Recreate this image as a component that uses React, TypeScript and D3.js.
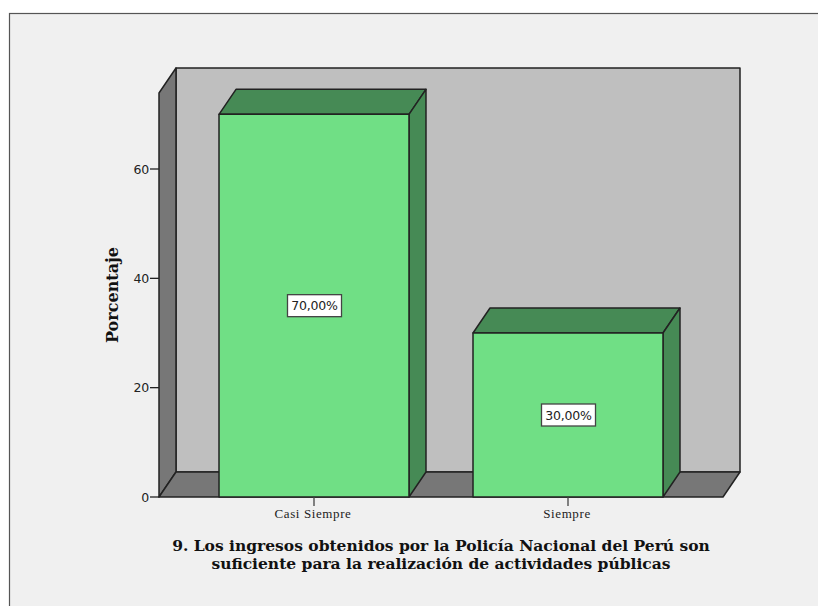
import React from "react";
import * as d3 from "d3";

const categories = ["Casi Siempre", "Siempre"];
const percentages = [70, 30];
const percentLabels = ["70,00%", "30,00%"];
const yTicks = [0, 20, 40, 60];
const titleLines = [
  "9. Los ingresos obtenidos por la Policía Nacional del Perú son",
  "suficiente para la realización de actividades públicas",
];
const yAxisLabel = "Porcentaje";

const W = 818, H = 606;
const DX = 17, DY = 25;
const FRONT_L = 159, FRONT_R = 723, BOTTOM = 497;

const y = d3.scaleLinear().domain([0, 60]).range([BOTTOM, 169]);
const x = d3.scaleBand<string>().domain(categories).range([187, 695]).paddingInner(0.252).paddingOuter(0.126);
const yTop = y(73.9);

const poly = (pts: [number, number][]) => d3.line()(pts)! + "Z";

const STROKE = "#222";
const WALL = "#bfbfbf", SIDE = "#777777", FACE = "#70df85", SHADE = "#468a55";
const SERIF = "'Liberation Serif', serif";
const SLAB = "'DejaVu Serif', serif";
const SANS = "'DejaVu Sans', sans-serif";

export default function App() {
  return (
    <svg width={W} height={H} style={{ position: "absolute", left: 0, top: 0, background: "#fff" }}>
      <rect x={9.5} y={13.5} width={W + 10} height={H + 10} fill="#f0f0f0" stroke="#555" strokeWidth={1.2} />
      <g stroke={STROKE} strokeWidth={1.5} strokeLinejoin="round">
        <path d={poly([[FRONT_L + DX, yTop - DY], [FRONT_R + DX, yTop - DY], [FRONT_R + DX, BOTTOM - DY], [FRONT_L + DX, BOTTOM - DY]])} fill={WALL} />
        <path d={poly([[FRONT_L, yTop], [FRONT_L + DX, yTop - DY], [FRONT_L + DX, BOTTOM - DY], [FRONT_L, BOTTOM]])} fill={SIDE} />
        <path d={poly([[FRONT_L, BOTTOM], [FRONT_L + DX, BOTTOM - DY], [FRONT_R + DX, BOTTOM - DY], [FRONT_R, BOTTOM]])} fill={SIDE} />
      </g>
      {yTicks.map((t) => (
        <g key={t}>
          <line x1={FRONT_L - 9} x2={FRONT_L} y1={y(t)} y2={y(t)} stroke={STROKE} strokeWidth={1.3} />
          <text x={FRONT_L - 10} y={y(t) + 4.5} textAnchor="end" fontFamily={SANS} fontSize={12.5} letterSpacing={-0.2} fill="#222">{t}</text>
        </g>
      ))}
      {categories.map((c, i) => {
        const l = x(c)!, r = l + x.bandwidth(), top = y(percentages[i]);
        const cx = l + x.bandwidth() / 2, cy = (top + BOTTOM) / 2;
        return (
          <g key={c}>
            <g stroke={STROKE} strokeWidth={1.5} strokeLinejoin="round">
              <path d={poly([[l, top], [l + DX, top - DY], [r + DX, top - DY], [r, top]])} fill={SHADE} />
              <path d={poly([[r, top], [r + DX, top - DY], [r + DX, BOTTOM - DY], [r, BOTTOM]])} fill={SHADE} />
              <rect x={l} y={top} width={r - l} height={BOTTOM - top} fill={FACE} />
            </g>
            <line x1={cx} x2={cx} y1={BOTTOM} y2={BOTTOM + 9} stroke="#444" strokeWidth={1.3} />
            <text x={cx - 1} y={BOTTOM + 21} textAnchor="middle" fontFamily={SERIF} fontSize={13} letterSpacing={0.6} fill="#222">{c}</text>
            <rect x={cx - 26.5} y={cy - 11} width={54} height={22} fill="#fff" stroke="#444" strokeWidth={1.3} />
            <text x={cx + 0.5} y={cy + 4.5} textAnchor="middle" fontFamily={SANS} fontSize={12.5} letterSpacing={-0.2} fill="#222">{percentLabels[i]}</text>
          </g>
        );
      })}
      <text transform="translate(117.5,295) rotate(-90)" textAnchor="middle" fontFamily={SLAB} fontWeight="bold" fontSize={16} fill="#111">{yAxisLabel}</text>
      {titleLines.map((t, i) => (
        <text key={t} x={441} y={550.5 + i * 18} textAnchor="middle" fontFamily={SLAB} fontWeight="bold" fontSize={15.5} fill="#111">{t}</text>
      ))}
    </svg>
  );
}
